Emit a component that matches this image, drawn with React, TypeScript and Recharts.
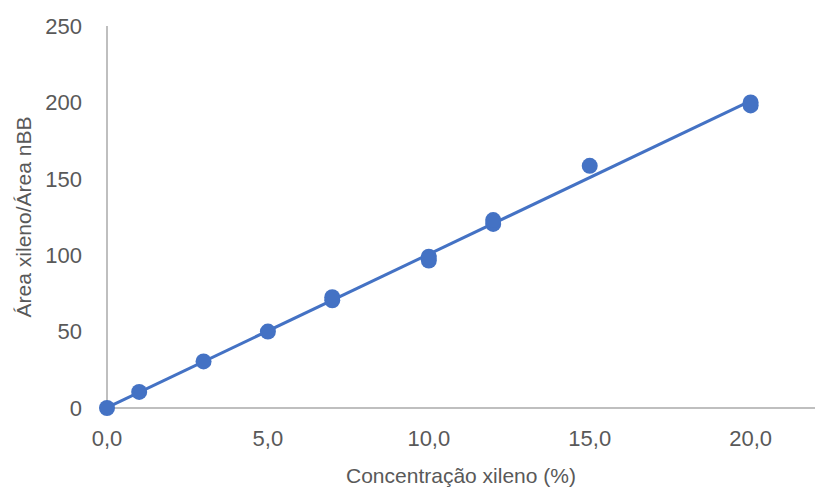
import { ScatterChart, Scatter, XAxis, YAxis } from 'recharts';

// Calibration points: xylene concentration (%) vs. area ratio
const concentrations = [0, 1, 3, 5, 7, 7, 10, 10, 12, 12, 15, 20, 20];
const areaRatios = [0, 10.5, 30.5, 50, 70.5, 72.5, 96.5, 99, 120.5, 123, 158.5, 198, 200];

// Linear fit, drawn between its end points
const fitX = [0, 20];
const fitY = [0.3, 201];

const xTicks = [0, 5, 10, 15, 20];
const yTicks = [0, 50, 100, 150, 200, 250];

const BLUE = '#4472C4';
const AXIS = '#BFBFBF';
const TEXT = '#595959';
const FONT = '"Liberation Sans", Arial, sans-serif';

const points = concentrations.map((x, i) => ({ x, y: areaRatios[i] }));
const fit = fitX.map((x, i) => ({ x, y: fitY[i] }));

const fmtX = (v: number) => v.toFixed(1).replace('.', ',');

export default function App() {
  return (
    <div style={{ position: 'absolute', left: 0, top: 0, width: 816, height: 490, background: '#fff' }}>
      <ScatterChart width={816} height={490} margin={{ top: 26, right: 1, bottom: 0, left: 0 }}>
        <XAxis
          type="number"
          dataKey="x"
          domain={[0, 22]}
          ticks={xTicks}
          tickFormatter={fmtX}
          tickLine={false}
          axisLine={{ stroke: AXIS, strokeWidth: 2 }}
          tick={{ fill: TEXT, fontSize: 22, fontFamily: FONT }}
          tickMargin={16}
          height={82}
          label={{
            value: 'Concentração xileno (%)',
            position: 'insideBottom',
            offset: 7,
            fill: TEXT,
            fontSize: 21,
            fontFamily: FONT,
          }}
        />
        <YAxis
          type="number"
          dataKey="y"
          domain={[0, 250]}
          ticks={yTicks}
          tickLine={false}
          axisLine={{ stroke: AXIS, strokeWidth: 2 }}
          tick={{ fill: TEXT, fontSize: 22, fontFamily: FONT }}
          tickMargin={19}
          width={107}
          label={{
            value: 'Área xileno/Área nBB',
            angle: -90,
            position: 'insideLeft',
            offset: 24,
            style: { textAnchor: 'middle' },
            fill: TEXT,
            fontSize: 21,
            fontFamily: FONT,
          }}
        />
        <Scatter
          data={fit}
          line={{ stroke: BLUE, strokeWidth: 3 }}
          shape={() => null}
          isAnimationActive={false}
        />
        <Scatter
          data={points}
          fill={BLUE}
          isAnimationActive={false}
          shape={(p: any) => <circle cx={p.cx} cy={p.cy} r={8} fill={BLUE} />}
        />
      </ScatterChart>
    </div>
  );
}
